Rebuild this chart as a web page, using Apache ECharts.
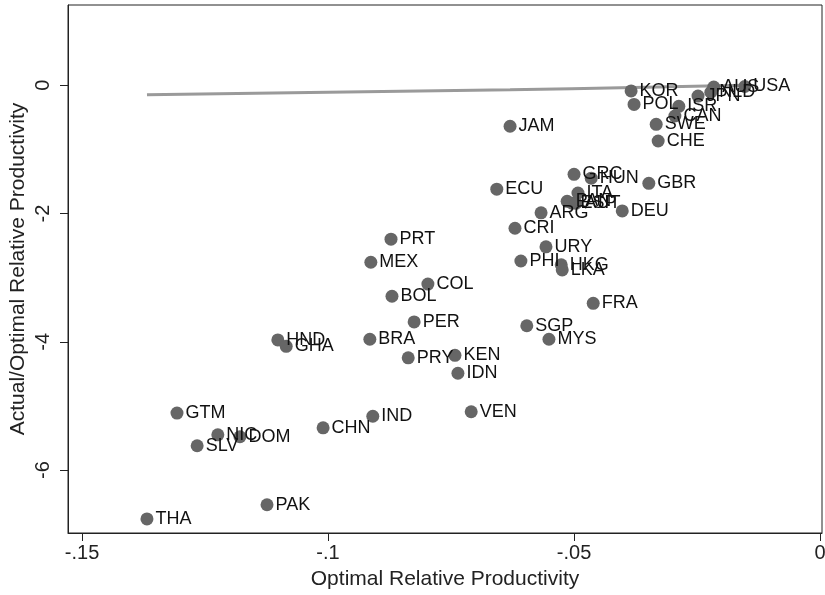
<!DOCTYPE html>
<html>
<head>
<meta charset="utf-8">
<script src="https://cdn.jsdelivr.net/npm/echarts@6/dist/echarts.min.js"></script>
<style>html,body{margin:0;padding:0;background:#fff}#c{width:825px;height:595px}</style>
</head>
<body>
<div id="c"></div>
<script>
const countries = ['USA','AUS','JPN','NLD','KOR','POL','ISR','CAN','SWE','CHE','JAM','GRC','HUN','GBR','ECU','ITA','PAN','ESP','AUT','DEU','ARG','CRI','URY','PHI','HKG','LKA','FRA','SGP','MYS','PRT','MEX','COL','BOL','PER','BRA','PRY','KEN','IDN','VEN','IND','CHN','HND','GHA','GTM','NIC','DOM','SLV','THA','PAK'];
const optX = [-0.0153,-0.0216,-0.0248,-0.0222,-0.0384,-0.0378,-0.0287,-0.0295,-0.0333,-0.0329,-0.0630,-0.0500,-0.0465,-0.0348,-0.0657,-0.0492,-0.0514,-0.0504,-0.0496,-0.0402,-0.0567,-0.0620,-0.0557,-0.0608,-0.0526,-0.0524,-0.0461,-0.0596,-0.0551,-0.0872,-0.0913,-0.0797,-0.0870,-0.0825,-0.0915,-0.0837,-0.0742,-0.0736,-0.0709,-0.0909,-0.1010,-0.1102,-0.1085,-0.1307,-0.1224,-0.1179,-0.1266,-0.1368,-0.1124];
const actY = [-0.02,-0.03,-0.17,-0.11,-0.09,-0.30,-0.33,-0.48,-0.61,-0.87,-0.64,-1.39,-1.45,-1.53,-1.62,-1.68,-1.81,-1.84,-1.84,-1.96,-1.99,-2.23,-2.52,-2.74,-2.80,-2.88,-3.40,-3.75,-3.96,-2.40,-2.76,-3.10,-3.29,-3.69,-3.96,-4.25,-4.21,-4.49,-5.09,-5.16,-5.34,-3.97,-4.07,-5.11,-5.45,-5.48,-5.62,-6.76,-6.54];
const fitX = [-0.1368,-0.10,-0.063,-0.038,-0.0157];
const fitY = [-0.15,-0.11,-0.07,-0.035,0.0];
const xTicks = [-0.15,-0.1,-0.05,0];
const yTicks = [-6,-4,-2,0];

const FONT = '"Liberation Sans", Arial, Helvetica, sans-serif';
const chart = echarts.init(document.getElementById('c'), null, {renderer:'canvas'});
const pts = countries.map((c,i)=>({name:c, value:[optX[i], actY[i]]}));
const fit = fitX.map((x,i)=>[x, fitY[i]]);
chart.setOption({
  animation:false,
  backgroundColor:'#fff',
  grid:{left:68, top:5, right:3, bottom:62, show:true, borderColor:'#222', borderWidth:1,
    containLabel:false, outerBoundsMode:'none'},
  xAxis:{
    type:'value', min:-0.15285, max:0.0004,
    name:'Optimal Relative Productivity', nameLocation:'middle', nameGap:36,
    nameTextStyle:{fontFamily:FONT, fontSize:21, color:'#222'},
    axisLine:{show:true, onZero:false, lineStyle:{color:'#222', width:1}},
    axisTick:{show:true, length:8, customValues:xTicks, lineStyle:{color:'#222'}},
    axisLabel:{customValues:xTicks, margin:10, fontFamily:FONT, fontSize:20, color:'#222',
      formatter:v=> v===0 ? '0' : '-' + String(Math.abs(v)).replace(/^0/,'')},
    splitLine:{show:false}
  },
  yAxis:{
    type:'value', min:-6.98, max:1.25,
    name:'Actual/Optimal Relative Productivity', nameLocation:'middle', nameGap:39,
    nameMoveOverlap:false,
    nameTextStyle:{fontFamily:FONT, fontSize:21, color:'#222'},
    axisLine:{show:true, onZero:false, lineStyle:{color:'#222', width:1}},
    axisTick:{show:true, length:8, customValues:yTicks, lineStyle:{color:'#222'}},
    axisLabel:{customValues:yTicks, rotate:90, margin:15, fontFamily:FONT, fontSize:20, color:'#222',
      formatter:v=>String(v)},
    splitLine:{show:false}
  },
  series:[
    {type:'line', data:fit, smooth:true, showSymbol:false, symbol:'none',
      lineStyle:{color:'#9a9a9a', width:3}, z:1},
    {type:'scatter', data:pts, symbolSize:13,
      itemStyle:{color:'#666666', opacity:1},
      label:{show:true, position:'right', distance:2, formatter:'{b}',
        fontFamily:FONT, fontSize:18, color:'#111'}, z:2,
      labelLayout:{hideOverlap:false}}
  ]
});
</script>
</body>
</html>
